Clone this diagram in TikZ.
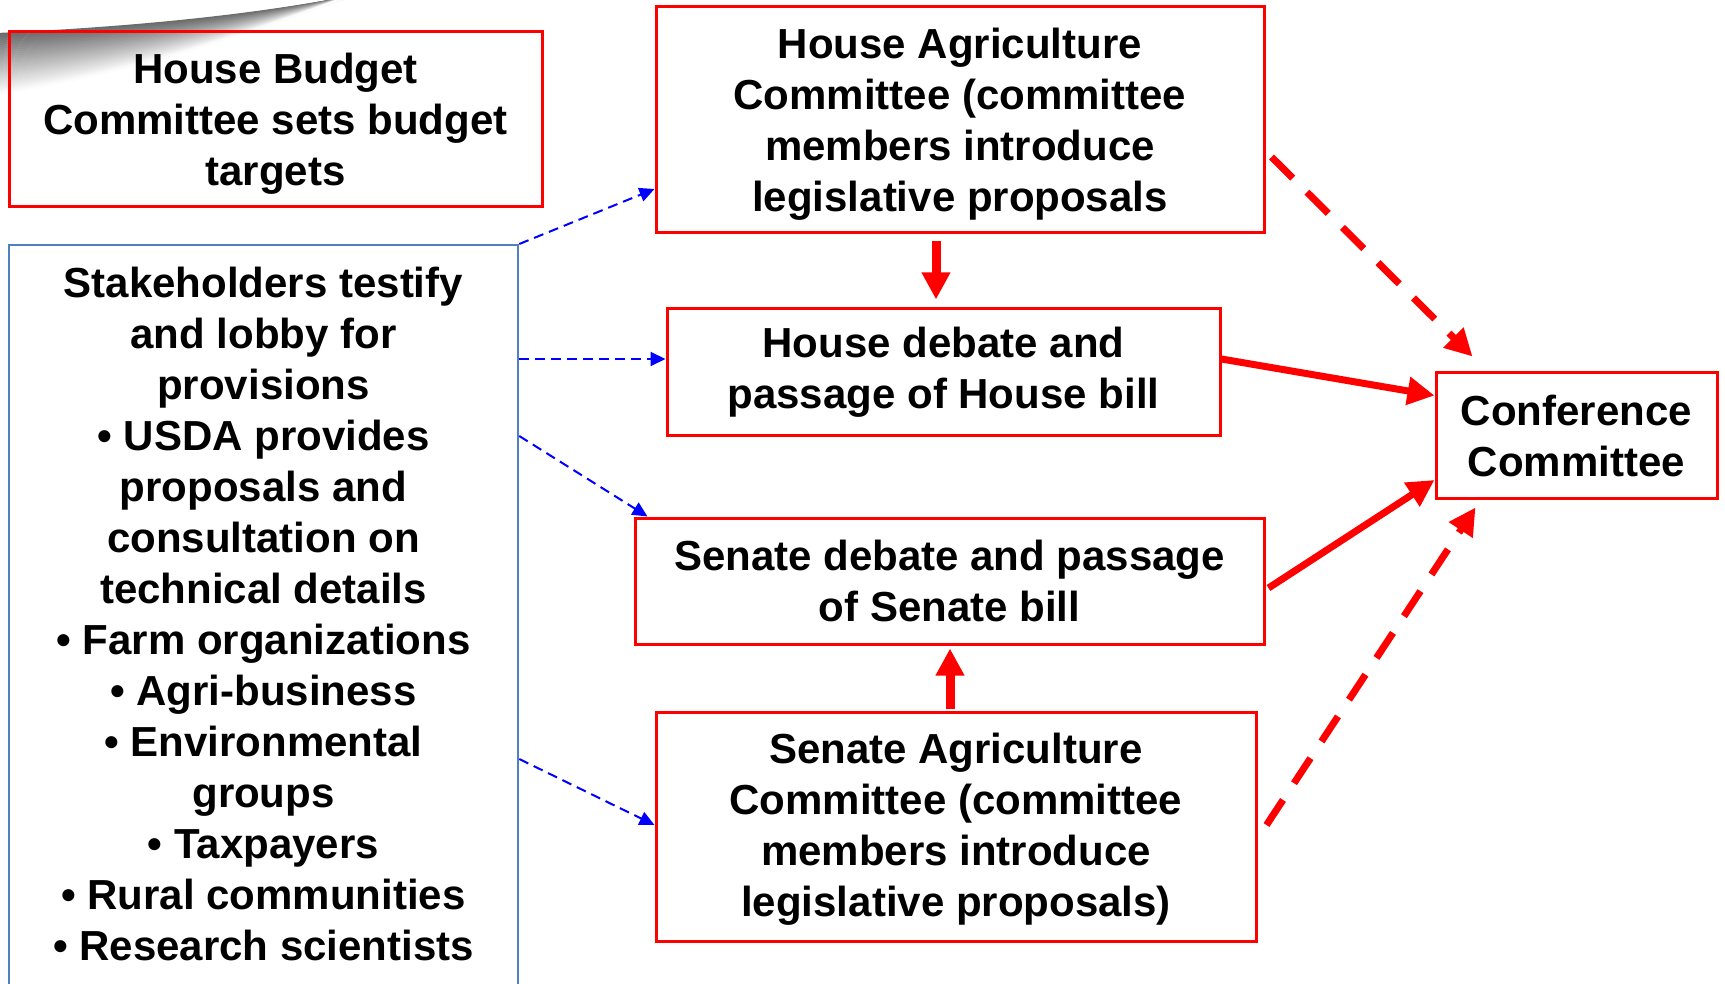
\documentclass[tikz,border=0pt]{standalone}
\usepackage{fontspec}
\setmainfont{Liberation Sans}
\usepackage{tikz}
\usetikzlibrary{arrows.meta,positioning,calc}
\definecolor{stakeblue}{RGB}{79,129,189}

\begin{document}
\begin{tikzpicture}[
    x=1pt, y=-1pt,
    font=\fontsize{42}{51}\selectfont\bfseries,
    box/.style={
        draw=red,
        line width=3pt,
        align=center,
        inner sep=0pt
    },
    stakebox/.style={
        draw=stakeblue,
        line width=2.5pt,
        align=center,
        anchor=north,
        inner xsep=0pt,
        inner ysep=22pt,
        text depth=40pt
    },
    lobby/.style={
        draw=blue,
        line width=2pt,
        dash pattern=on 10pt off 6pt,
        -{Triangle[length=15pt,width=14pt]}
    },
    pass/.style={
        draw=red,
        line width=7pt,
        -{Triangle[length=27pt,width=27pt]}
    },
    refer/.style={
        pass,
        dash pattern=on 30pt off 20pt
    }
]
\useasboundingbox (0,0) rectangle (1725,984);

% page curl shadow
\foreach \i in {0,2,...,60} {
    \pgfmathsetmacro\shade{58-\i*0.95}
    \draw[black!\shade, line width=2.3pt]
        (0,34+\i) .. controls (150,27+0.7*\i) and (260,14+0.25*\i) .. (345,-2);
}

% Budget and stakeholders
\node[box, minimum width=533pt, minimum height=175pt, text depth=0pt] (budget) at (275.5,119.5)
{House Budget\\Committee sets budget\\targets};

\node[stakebox, minimum width=509pt] (stake) at (263.5,244)
{Stakeholders testify\\and lobby for\\provisions\\
• USDA provides\\proposals and\\consultation on\\technical details\\
• Farm organizations\\• Agri-business\\• Environmental\\groups\\
• Taxpayers\\• Rural communities\\• Research scientists};

% House side
\node[box, minimum width=608pt, minimum height=226pt, text depth=0pt] (houseag) at (960,120)
{House Agriculture\\Committee (committee\\members introduce\\legislative proposals};

\node[box, minimum width=553pt, minimum height=126pt] (housedeb) at (943.5,372)
{House debate and\\passage of House bill};

% Senate side
\node[box, minimum width=629pt, minimum height=126pt] (senatedeb) at (949.5,581)
{Senate debate and passage\\of Senate bill};

\node[box, minimum width=600pt, minimum height=229pt, text depth=4pt] (senateag) at (956,826.5)
{Senate Agriculture\\Committee (committee\\members introduce\\legislative proposals)};

\node[box, minimum width=281pt, minimum height=125pt] (conf) at (1576.5,435.5)
{Conference\\Committee};

% Lobbying
\draw[lobby] (stake.north east) -- ($(houseag.west)+(0,69)$);
\draw[lobby] ($(stake.north east)+(0,115)$) -- ($(housedeb.west)+(0,-13)$);
\draw[lobby] ($(stake.north east)+(0,192)$) -- ($(senatedeb.north west)+(14,0)$);
\draw[lobby] ($(stake.north east)+(0,515)$) -- ($(senateag.west)+(0,-1.5)$);

% Passage
\draw[pass, line width=9pt] ($(houseag.south)+(-24,7)$) -- ($(housedeb.north)+(-7.5,-8)$);
\draw[pass, line width=9pt] ($(senateag.north)+(-6,-2)$) -- ($(senatedeb.south)+(0.5,3)$);

\draw[pass] ($(housedeb.east)+(0,-13)$) -- ($(conf.west)+(0,-40)$);
\draw[pass] ($(senatedeb.east)+(3,7)$) -- ($(conf.west)+(0,44.5)$);
\draw[refer] ($(houseag.east)+(6,37)$) -- ($(conf.north west)+(38,-15)$);
\draw[refer] ($(senateag.east)+(9,-1.5)$) -- ($(conf.south west)+(41,8)$);

\end{tikzpicture}
\end{document}
